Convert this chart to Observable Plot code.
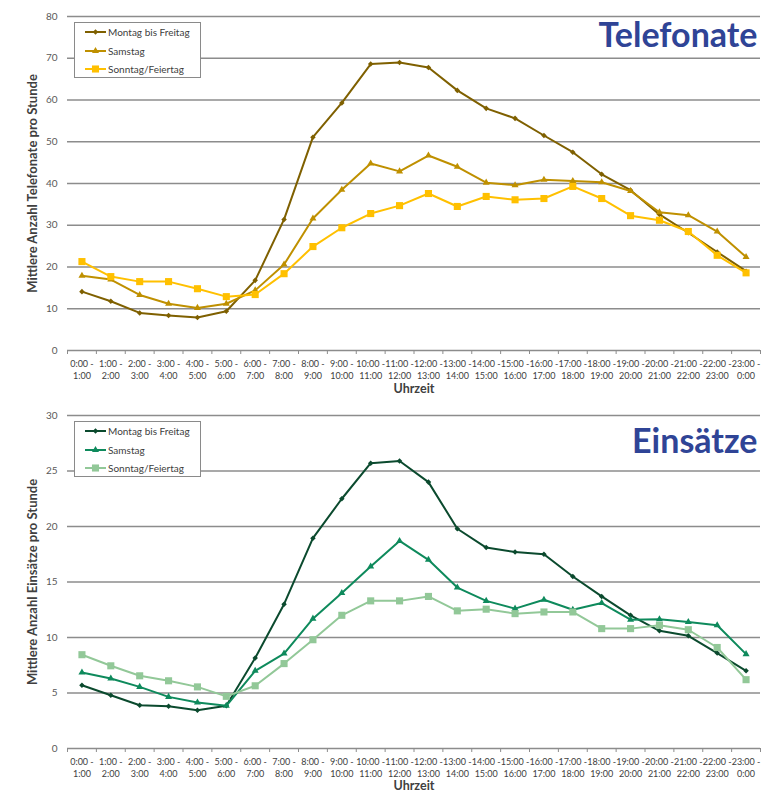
<!DOCTYPE html>
<html><head><meta charset="utf-8">
<script src="https://cdn.jsdelivr.net/npm/d3@7"></script>
<script src="https://cdn.jsdelivr.net/npm/@observablehq/plot@0.6"></script>
<style>
body{margin:0;background:#fff;font-family:Lato,sans-serif;}
#wrap{position:relative;width:773px;}
.chart{position:relative;width:773px;height:397px;}
.chart svg{display:block;}
.legend{position:absolute;left:74px;width:127px;border:1px solid #8a8a8a;background:#fff;box-sizing:border-box;}
.row{position:absolute;left:0;height:14px;display:flex;align-items:center;font-size:10px;color:#404040;white-space:nowrap;}
.row svg{display:block;margin-right:1px;}
</style></head><body><div id="wrap"></div>
<script>
const hours = ["0:00","1:00","2:00","3:00","4:00","5:00","6:00","7:00","8:00","9:00","10:00","11:00",
  "12:00","13:00","14:00","15:00","16:00","17:00","18:00","19:00","20:00","21:00","22:00","23:00"];
const seriesNames = ["Montag bis Freitag","Samstag","Sonntag/Feiertag"];

const telMoFr = [14.1,11.8,9.0,8.4,7.9,9.4,16.8,31.4,51.1,59.3,68.6,69.0,67.8,62.3,58.0,55.6,51.5,47.5,42.2,38.4,32.6,28.2,23.6,19.0];
const telSa   = [17.9,17.0,13.3,11.2,10.2,11.2,14.4,20.6,31.6,38.5,44.8,42.9,46.7,44.0,40.2,39.6,40.9,40.6,40.3,38.2,33.1,32.4,28.5,22.4];
const telSo   = [21.3,17.7,16.5,16.5,14.8,12.9,13.4,18.4,24.9,29.4,32.8,34.7,37.6,34.5,36.9,36.1,36.4,39.3,36.4,32.3,31.2,28.5,22.8,18.6];

const einMoFr = [5.7,4.8,3.9,3.8,3.45,3.85,8.15,13.0,18.95,22.5,25.7,25.9,24.0,19.8,18.1,17.7,17.5,15.5,13.7,12.0,10.6,10.15,8.6,7.0];
const einSa   = [6.85,6.3,5.55,4.65,4.15,3.85,7.0,8.55,11.7,14.0,16.4,18.7,17.0,14.5,13.3,12.6,13.4,12.5,13.1,11.6,11.65,11.4,11.1,8.5];
const einSo   = [8.45,7.45,6.55,6.1,5.55,4.7,5.65,7.65,9.8,12.0,13.3,13.3,13.7,12.4,12.55,12.15,12.3,12.3,10.8,10.8,11.1,10.7,9.1,6.2];

const telColors = ["#7F6000","#BF9000","#FFC000"];
const einColors = ["#0B4A2E","#0E8A5C","#92C898"];
const symbols = ["diamond2","triangle","square"];
const symbolR = [2.5,2.6,4];
const d3Symbols = [d3.symbolDiamond2, d3.symbolTriangle, d3.symbolSquare];

function makeChart({values, colors, yMax, yStep, yLabel, title, mt, mb, titleDy, xLabelDy, legendTop}) {
  const rows = [];
  seriesNames.forEach((s, k) => values[k].forEach((v, i) => rows.push({i, slot: hours[i], s, v, k})));
  const edges = d3.range(-0.5, 24, 1);
  const marks = [
    Plot.ruleY(d3.range(0, yMax + 1, yStep), {stroke: "#8c8c8c", strokeWidth: 1.3}),
    Plot.axisX(edges, {tickSize: 4, tickFormat: () => "", stroke: "#8c8c8c", label: null}),
    Plot.axisX(d3.range(24), {tickSize: 0, tickPadding: 8, fontSize: 9, fill: "#404040", label: null,
      tickFormat: i => `${hours[i]} -\n${hours[(i + 1) % 24]}`, lineHeight: 1.3}),
    Plot.axisY(d3.range(0, yMax + 1, yStep), {tickSize: 0, tickPadding: 10, fontSize: 10, fill: "#595959", label: null}),
    Plot.text([yLabel], {frameAnchor: "left", textAnchor: "middle", dx: -35, rotate: -90, fontSize: 13, fontWeight: "bold", fill: "#404040"}),
    Plot.text(["Uhrzeit"], {frameAnchor: "bottom", textAnchor: "middle", dy: xLabelDy, fontSize: 12.5, fontWeight: "bold", fill: "#404040"}),
    Plot.text([title], {frameAnchor: "top-right", dx: -3, dy: titleDy, textAnchor: "end", lineAnchor: "top", fontSize: 34, fontWeight: "bold", fill: "#2F4496"})
  ];
  seriesNames.forEach((s, k) => {
    const data = rows.filter(d => d.k === k);
    marks.push(Plot.line(data, {x: "i", y: "v", stroke: colors[k], strokeWidth: 2}));
    marks.push(Plot.dot(data, {x: "i", y: "v", symbol: () => symbols[k], r: symbolR[k], fill: colors[k], stroke: "none"}));
  });
  const svg = Plot.plot({
    width: 773, height: 397, marginLeft: 67, marginRight: 13, marginTop: mt, marginBottom: mb,
    style: {fontFamily: "Lato, sans-serif", background: "white", overflow: "visible"},
    x: {domain: [-0.5, 23.5]},
    y: {domain: [0, yMax]},
    symbol: {type: "identity"},
    marks
  });
  const box = document.createElement("div");
  box.className = "chart";
  box.appendChild(svg);
  const lg = document.createElement("div");
  lg.className = "legend";
  lg.style.top = legendTop + "px";
  lg.style.height = "56px";
  seriesNames.forEach((name, k) => {
    const row = document.createElement("div");
    row.className = "row";
    row.style.top = (9 + 18.5 * k - 7) + "px";
    const path = d3.symbol(d3Symbols[k], Math.PI * symbolR[k] * symbolR[k])();
    row.innerHTML = `<svg width="32" height="14"><line x1="10" x2="31" y1="7" y2="7" stroke="${colors[k]}" stroke-width="2"/>` +
      `<path d="${path}" transform="translate(20.5,7)" fill="${colors[k]}"/></svg><span>${name}</span>`;
    lg.appendChild(row);
  });
  box.appendChild(lg);
  return box;
}

const wrap = document.getElementById("wrap");
wrap.appendChild(makeChart({values: [telMoFr, telSa, telSo], colors: telColors, yMax: 80, yStep: 10,
  yLabel: "Mittlere Anzahl Telefonate pro Stunde", title: "Telefonate", mt: 16, mb: 47, titleDy: 6, xLabelDy: 42, legendTop: 22}));
wrap.appendChild(makeChart({values: [einMoFr, einSa, einSo], colors: einColors, yMax: 30, yStep: 5,
  yLabel: "Mittlere Anzahl Einsätze pro Stunde", title: "Einsätze", mt: 18, mb: 46, titleDy: 13, xLabelDy: 41, legendTop: 24}));
</script></body></html>
